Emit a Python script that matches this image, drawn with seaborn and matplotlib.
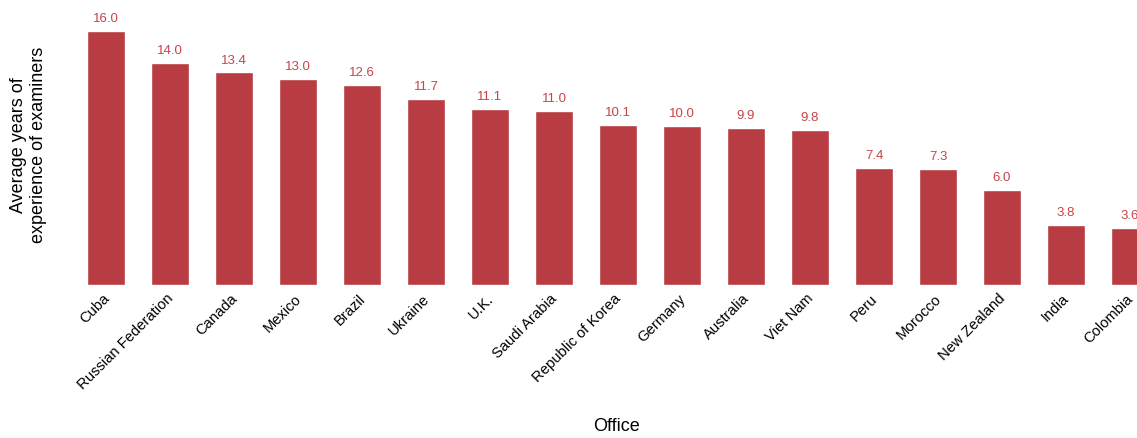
import matplotlib
matplotlib.use("Agg")
import matplotlib.pyplot as plt
import matplotlib.transforms as mtransforms
import seaborn as sns
import pandas as pd

# Data
offices = ["Cuba", "Russian Federation", "Canada", "Mexico", "Brazil", "Ukraine",
           "U.K.", "Saudi Arabia", "Republic of Korea", "Germany", "Australia",
           "Viet Nam", "Peru", "Morocco", "New Zealand", "India", "Colombia"]
years = [16.0, 14.0, 13.4, 13.0, 12.6, 11.7, 11.1, 11.0, 10.1, 10.0, 9.9,
         9.8, 7.4, 7.3, 6.0, 3.8, 3.6]

bar_color = "#b83c42"
label_color = "#c8434a"

sns.set_style("white")
plt.rcParams['font.family'] = ['Liberation Sans', 'DejaVu Sans']

df = pd.DataFrame({"Office": offices, "Years": years})

fig = plt.figure(figsize=(11.37, 4.39), dpi=100)
# axes placed in pixel terms: left edge of category -0.5 at x=74px, bottom at y=286px
ax = fig.add_axes([74 / 1137, (439 - 286) / 439, 1088 / 1137, 276 / 439])

sns.barplot(data=df, x="Office", y="Years", color=bar_color, width=0.6,
            saturation=1, ax=ax)

for i, v in enumerate(years):
    ax.annotate(f"{v:.1f}", (i, v), xytext=(0, 5), textcoords="offset points",
                ha="center", va="bottom", color=label_color, fontsize=9.5)

ax.set_xlim(-0.5, 16.5)
ax.set_ylim(0, 17.4)
ax.set_yticks([])
sns.despine(ax=ax, left=True, bottom=True)

ax.set_xticks(range(len(offices)))
ax.set_xticklabels(offices, rotation=45, ha="right", rotation_mode="anchor",
                   fontsize=10.6, color="black")
ax.tick_params(axis="x", length=0, pad=4)
# nudge tick labels a little to the left so they end near the bar centre
shift = mtransforms.ScaledTranslation(-4 / 100, 0, fig.dpi_scale_trans)
for lbl in ax.get_xticklabels():
    lbl.set_transform(lbl.get_transform() + shift)

ax.set_xlabel("Office", fontsize=13, color="black", labelpad=0)
ax.xaxis.set_label_coords((617 - 74) / 1088, -(418 - 286) / 276)
ax.set_ylabel("Average years of\nexperience of examiners", fontsize=13,
              color="black")
ax.yaxis.set_label_coords(-(74 - 47) / 1088, (286 - 145) / 276)

fig.savefig("out.png", dpi=100)
